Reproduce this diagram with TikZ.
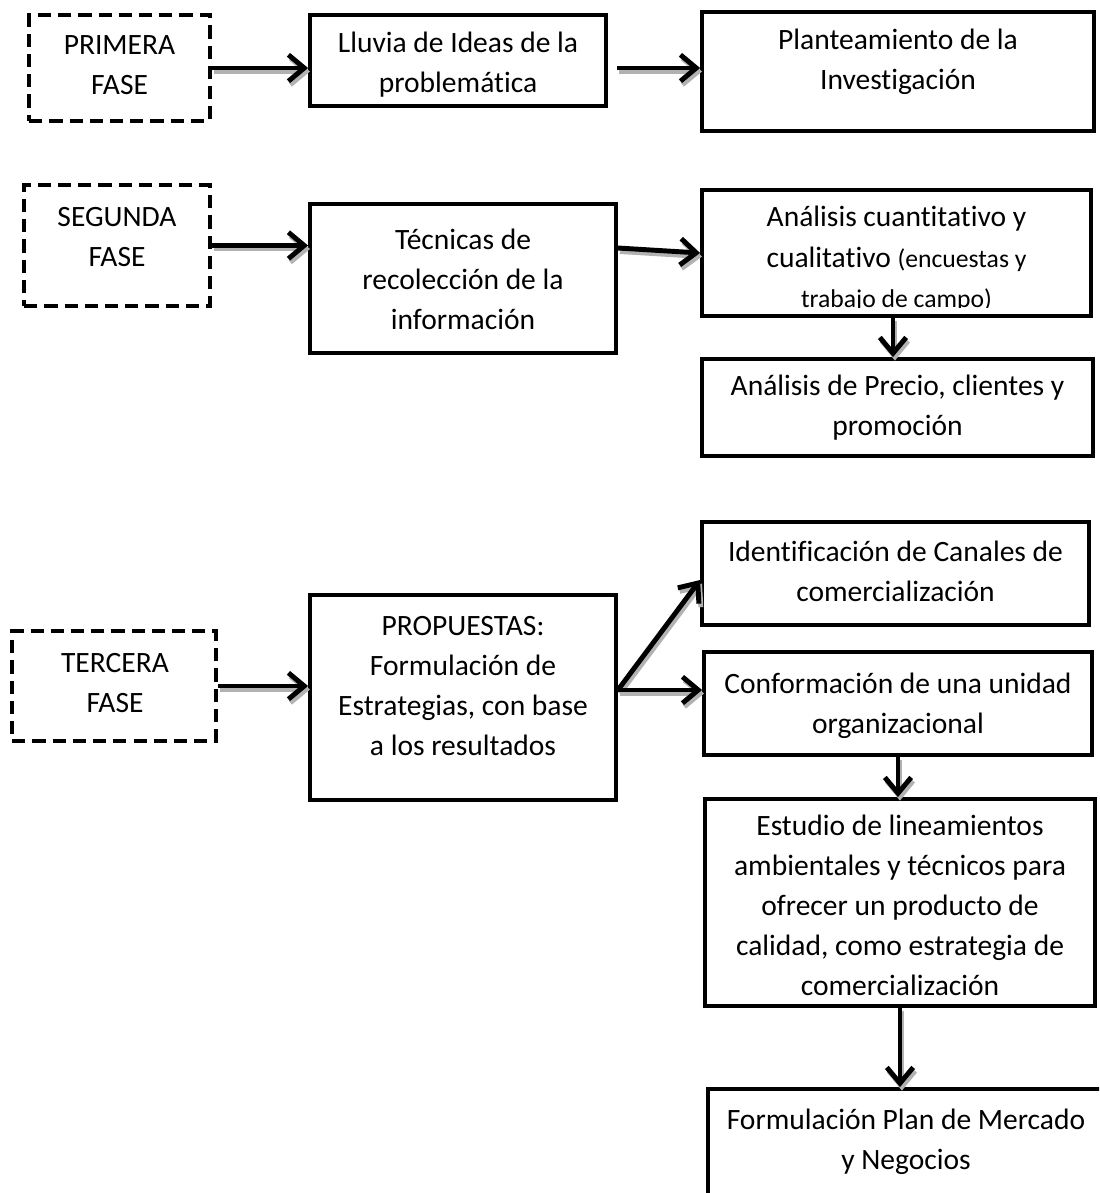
\documentclass[tikz,border=0pt]{standalone}
\usepackage{fontspec}
\setmainfont{Carlito}[Ligatures=CommonOff]
\usetikzlibrary{arrows.meta}

\tikzset{
  caja/.style={draw, line width=2.5pt, inner sep=0pt},
  fase/.style={caja, dash pattern=on 7.5pt off 4pt},
  texto/.style={align=center, inner sep=0pt, font=\fontsize{16.8}{22.8}\selectfont},
  punta/.style={-{Straight Barb[length=9pt,width=15pt]}},
  flecha/.style={line width=2.8pt, punta,
    preaction={draw=gray!60, line width=2.8pt, punta,
      transform canvas={shift={(1.1pt,-2pt)}}}}
}

\begin{document}
\begin{tikzpicture}[x=0.02cm, y=-0.02cm]
        \clip (0,0) rectangle (1099,1193);

        % Primera fase
        \node[fase, minimum width=3.61cm, minimum height=2.11cm] (primera) at (119.5,68) {};
        \node[texto] (primeraT) at (119.5,65) {PRIMERA\\FASE};
        \node[caja, minimum width=5.91cm, minimum height=1.81cm] (lluvia) at (458,60.5) {};
        \node[texto] (lluviaT) at (458,65) {Lluvia de Ideas de la\\problemática};
        \node[caja, minimum width=7.83cm, minimum height=2.37cm] (plant) at (898,71.5) {};
        \node[texto] (plantT) at (898,62) {Planteamiento de la\\Investigación};

        % Segunda fase
        \node[fase, minimum width=3.71cm, minimum height=2.41cm] (segunda) at (117,245.5) {};
        \node[texto] (segundaT) at (117,237) {SEGUNDA\\FASE};
        \node[caja, minimum width=6.11cm, minimum height=2.97cm] (tecnicas) at (463,278.5) {};
        \node[texto] (tecnicasT) at (463,279) {Técnicas de\\recolección de la\\información};
        \node[caja, minimum width=7.77cm, minimum height=2.51cm] (cuant) at (896.5,253) {};
        \begin{scope}
          \clip (700,188) rectangle (1093,307);
          \node[texto] (cuantT) at (896.5,259) {Análisis cuantitativo y\\cualitativo {\fontsize{14.6}{22.8}\selectfont (encuestas y}\\{\fontsize{14.6}{22.8}\selectfont trabajo de campo)}};
        \end{scope}
        \node[caja, minimum width=7.81cm, minimum height=1.93cm] (precio) at (897.5,407.5) {};
        \node[texto] (precioT) at (897.5,408) {Análisis de Precio, clientes y\\promoción};

        % Tercera fase
        \node[fase, minimum width=4.07cm, minimum height=2.19cm] (tercera) at (114,686) {};
        \node[texto] (terceraT) at (115,683) {TERCERA\\FASE};
        \node[caja, minimum width=6.11cm, minimum height=4.09cm] (prop) at (463,697.5) {};
        \node[texto] (propT) at (463,686) {PROPUESTAS:\\Formulación de\\Estrategias, con base\\a los resultados};
        \node[caja, minimum width=7.73cm, minimum height=2.05cm] (ident) at (895.5,573.5) {};
        \node[texto] (identT) at (895.5,571.5) {Identificación de Canales de\\comercialización};
        \node[caja, minimum width=7.75cm, minimum height=2.05cm] (conf) at (898,703.5) {};
        \node[texto] (confT) at (898,706) {Conformación de una unidad\\organizacional};
        \node[caja, minimum width=7.79cm, minimum height=4.13cm] (estudio) at (900,902.5) {};
        \node[texto] (estudioT) at (900,905.5) {Estudio de lineamientos\\ambientales y técnicos para\\ofrecer un producto de\\calidad, como estrategia de\\comercialización};
        \node[caja, minimum width=8.19cm, minimum height=2.57cm] (formul) at (913,1153.5) {};
        \node[texto] (formulT) at (906,1141.5) {Formulación Plan de Mercado\\y Negocios};

        % Flechas
        \coordinate (s2) at ([xshift=0.18cm]lluvia.east |- primera.east);
        \coordinate (s4) at ([yshift=0.61cm]tecnicas.east);
        \coordinate (s6) at ([yshift=0.15cm]prop.east);
        \draw[flecha] (primera.east) -- (primera.east -| lluvia.west);
        \draw[flecha] (s2) -- (s2 -| plant.west);
        \draw[flecha] (segunda.east) -- (segunda.east -| tecnicas.west);
        \draw[flecha] (s4) -- (cuant.west);
        \draw[flecha] ([xshift=-0.07cm]cuant.south) -- ([xshift=-0.07cm]cuant.south |- precio.north);
        \draw[flecha] (tercera.east) -- (tercera.east -| prop.west);
        \draw[flecha] (s6) -- ([yshift=-0.13cm]ident.west);
        \draw[flecha] (s6) -- (s6 -| conf.west);
        \draw[flecha] (conf.south) -- (conf.south |- estudio.north);
        \draw[flecha] (estudio.south) -- (estudio.south |- formul.north);
      \end{tikzpicture}
\end{document}
